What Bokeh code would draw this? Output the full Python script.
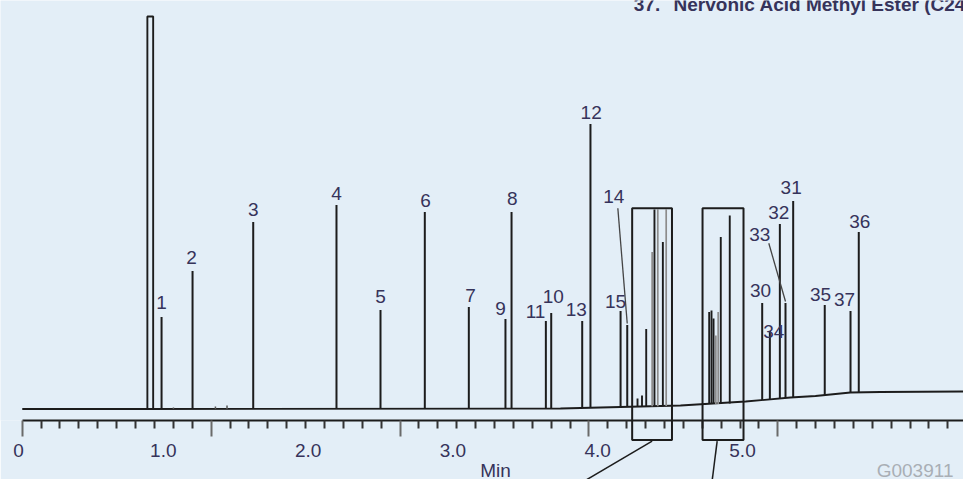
from bokeh.plotting import figure
from bokeh.models import Range1d, LinearAxis, FixedTicker
from bokeh.core.properties import value
from bokeh.embed import file_html
from bokeh.resources import INLINE

# ---------------------------------------------------------------- data
# Labelled FAME peaks: retention time (min), apex signal and local baseline
peak_ids = ["1", "2", "3", "4", "5", "6", "7", "8", "9", "10", "11", "12",
            "13", "14", "15", "30", "31", "32", "33", "34", "35", "36", "37"]
peak_rt = [0.988, 1.202, 1.621, 2.196, 2.500, 2.806, 3.110, 3.405, 3.363,
           3.679, 3.642, 3.950, 3.893, 4.204, 4.158, 5.136, 5.350, 5.258,
           5.297, 5.189, 5.568, 5.803, 5.746]
peak_apex = [92, 138, 187, 204, 99, 197, 102, 197, 90, 96, 88, 285,
             88, 84, 98, 106, 208, 185, 106, 78, 104, 177, 98]
peak_base = [0, 0, 0, 0, 0, 0, 0, 0, 0, 0.5, 0.5, 1.2,
             1.0, 2.2, 2.0, 9.0, 11.6, 10.6, 11.0, 9.7, 14.0, 16.6, 16.5]

# Crowded C18-C20 region (peaks 16-29), enlarged in the insets
cluster_rt = [4.275, 4.306, 4.335, 4.392, 4.450, 4.770, 4.786, 4.800, 4.850, 4.912]
cluster_apex = [10.5, 13.5, 80, 199.5, 167, 97, 98.5, 90.5, 172, 193.5]
cluster_base = [2.5, 2.5, 2.6, 2.7, 2.8, 5.0, 5.0, 5.1, 5.2, 5.6]
shoulder_rt = [4.376, 4.415, 4.473, 4.816, 4.832]
shoulder_apex = [157, 199.5, 199.5, 73.5, 97]
shoulder_base = [2.7, 2.7, 2.9, 5.1, 5.1]

# small baseline disturbances
minor_rt = [1.07, 1.36, 1.44]
minor_apex = [1.5, 2.5, 3.5]

# solvent front
solvent_start, solvent_end, solvent_apex = 0.890, 0.930, 392.5

# baseline drift
baseline_rt = [0.026, 0.870, 3.743, 4.157, 4.572, 5.021, 5.331, 5.504, 5.746, 5.953, 6.526]
baseline_y = [0, 0, 0.5, 2.0, 3.5, 7.5, 11.5, 13.0, 16.5, 17.0, 17.5]

# time windows shown enlarged, and where their pointers lead
inset_start = [4.238, 4.724]
inset_end = [4.513, 5.007]
pointer_from = [4.376, 4.825]
pointer_to = [3.867, 4.787]

axis_labels = {0: "0", 1: "1.0", 2: "2.0", 3: "3.0", 4: "4.0", 5: "5.0"}

# ---------------------------------------------------------------- layout
PX_PER_MIN = 144.8
X_START, X_END = -18 / PX_PER_MIN, (963 - 18) / PX_PER_MIN
Y_START, Y_END = -11.5, 408.5
TICK0, TICK_STEP, N_TICKS = 0.0256, 0.13046, 50
INSET_TOP, INSET_BOTTOM = 200.8, -31.0
POINTER_TOP, POINTER_BOTTOM = -32.2, -75.5

BG = "#e3eef7"
INK = "#1c1c1c"
TEXT = "#36335a"
FONT = "Liberation Sans"
FS = "19px"

# label placement: (horizontal shift px, label centre above apex px)
LABEL_NUDGE = {
    "1": (0, 15), "2": (-1, 13.3), "3": (0, 12.4), "4": (0, 11.3), "5": (0, 13.3),
    "6": (0.7, 11.7), "7": (1.7, 11.7), "8": (0.7, 13.4), "9": (-5, 11),
    "10": (2, 17), "11": (-10.3, 9.3), "12": (0.7, 11.6), "13": (-6, 11.7),
    "14": (-13.4, 129), "15": (-5, 9.3), "30": (-1.7, 12.7), "31": (-2, 13.3),
    "32": (-1, 11.6), "33": (-25.7, 68.7), "34": (4, 0), "35": (-4.3, 10.7),
    "36": (1, 11), "37": (-6, 11.7),
}
# leader lines: (start shift px, start height above apex px)
LEADERS = {"14": (-9.4, 116.7), "33": (-16.7, 59.7)}

p = figure(width=963, height=479, output_backend="svg", toolbar_location=None,
           x_range=Range1d(X_START, X_END), y_range=Range1d(Y_START, Y_END),
           x_axis_type=None, y_axis_type=None,
           min_border_left=0, min_border_right=0, min_border_top=0,
           min_border_bottom=59)
p.background_fill_color = BG
p.border_fill_color = BG
p.outline_line_color = None
p.grid.visible = False

# time axis: tick marks
marks = [TICK0 + k * TICK_STEP for k in range(N_TICKS)]
long_marks = marks[::10]
tick_axis = LinearAxis(
    ticker=FixedTicker(ticks=long_marks,
                       minor_ticks=[m for i, m in enumerate(marks) if i % 10]),
    bounds=(marks[0], X_END),
    axis_line_color=INK, axis_line_width=2,
    major_tick_in=0, major_tick_out=16, major_tick_line_color="#6a6a6a",
    major_tick_line_width=2,
    minor_tick_in=0, minor_tick_out=8, minor_tick_line_color="#333333",
    minor_tick_line_width=2,
    major_label_overrides={m: "" for m in long_marks},
    major_label_text_font_size="1px", major_label_standoff=0)
p.add_layout(tick_axis, "below")

# time axis: labels
label_axis = LinearAxis(
    ticker=FixedTicker(ticks=list(axis_labels.keys()), minor_ticks=[]),
    major_label_overrides=axis_labels,
    axis_line_color=None, major_tick_line_color=None, minor_tick_line_color=None,
    major_tick_in=0, major_tick_out=0, minor_tick_in=0, minor_tick_out=0,
    major_label_standoff=7, major_label_text_font=FONT,
    major_label_text_font_size=FS, major_label_text_color=TEXT)
p.add_layout(label_axis, "below")

# baseline and peaks
p.line(baseline_rt, baseline_y, line_color=INK, line_width=1.8)
p.quad(left=[solvent_start], right=[solvent_end], bottom=[0], top=[solvent_apex],
       fill_alpha=0, line_color=INK, line_width=1.9)
p.segment(x0=minor_rt, y0=[0] * len(minor_rt), x1=minor_rt, y1=minor_apex,
          line_color="#555555", line_width=1.5)
p.segment(x0=shoulder_rt, y0=shoulder_base, x1=shoulder_rt, y1=shoulder_apex,
          line_color="#8c8c8c", line_width=1.7)
p.segment(x0=cluster_rt, y0=cluster_base, x1=cluster_rt, y1=cluster_apex,
          line_color=INK, line_width=1.9)
p.segment(x0=peak_rt, y0=peak_base, x1=peak_rt, y1=peak_apex,
          line_color=INK, line_width=2)

# peak labels
lx, ly = [], []
for pid, rt, apex in zip(peak_ids, peak_rt, peak_apex):
    dx, up = LABEL_NUDGE.get(pid, (0, 12))
    lx.append(rt + dx / PX_PER_MIN)
    ly.append(apex + up)
p.text(x=lx, y=ly, text=peak_ids, text_align="center", text_baseline="middle",
       text_font=value(FONT), text_font_size=FS, text_color=TEXT)

# leader lines for displaced labels
x0s, y0s, x1s, y1s = [], [], [], []
for pid, (dx, up) in LEADERS.items():
    i = peak_ids.index(pid)
    x0s.append(peak_rt[i] + dx / PX_PER_MIN)
    y0s.append(peak_apex[i] + up)
    x1s.append(peak_rt[i])
    y1s.append(peak_apex[i] + 1.5)
p.segment(x0=x0s, y0=y0s, x1=x1s, y1=y1s, line_color="#444444", line_width=1.3)

# inset windows (reach below the time axis) and their pointers
p.quad(left=inset_start, right=inset_end, top=[INSET_TOP] * 2, bottom=[INSET_BOTTOM] * 2,
       fill_alpha=0, line_color=INK, line_width=2, level="overlay")
p.segment(x0=pointer_from, y0=[POINTER_TOP] * 2, x1=pointer_to, y1=[POINTER_BOTTOM] * 2,
          line_color=INK, line_width=1.5, level="overlay")

# texts
p.text(x=[3.294], y=[-61.5], text=["Min"], text_align="center", text_baseline="middle",
       text_font=value(FONT), text_font_size=FS, text_color=TEXT, level="overlay")
p.text(x=[6.457], y=[-61.5], text=["G003911"], text_align="right", text_baseline="middle",
       text_font=value(FONT), text_font_size=FS, text_color="#a9aeb5", level="overlay")
p.text(x=[4.249, 4.524], y=[404.8, 404.8],
       text=["37.", "Nervonic Acid Methyl Ester (C24:1)"],
       text_align="left", text_baseline="middle", text_font_style="bold",
       text_font=value(FONT), text_font_size=FS, text_color=TEXT)

open("out.html", "w").write(file_html(p, INLINE))
